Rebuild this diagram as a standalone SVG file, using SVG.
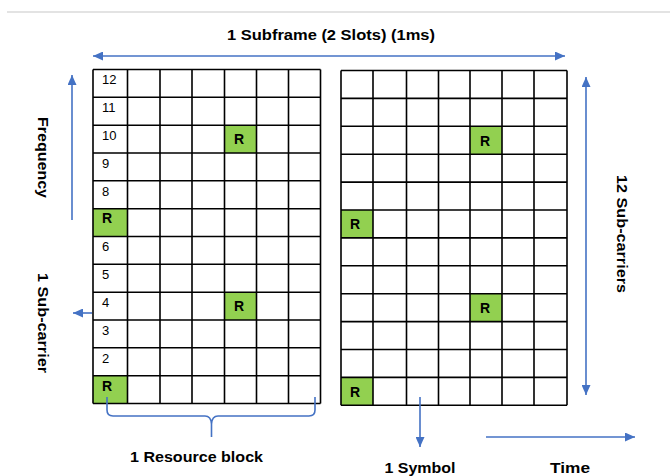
<svg xmlns="http://www.w3.org/2000/svg" width="670" height="476" viewBox="0 0 670 476">
  <style>
    .grid { fill: none; stroke: #000; stroke-width: 1.6; }
    .rs { fill: #92D050; }
    .num { font-family: "Liberation Sans", Arial, sans-serif; font-size: 13px; fill: #000; }
    .r { font-family: "Liberation Sans", Arial, sans-serif; font-size: 14px; font-weight: bold; fill: #000; }
    .lbl { font-family: "Liberation Sans", Arial, sans-serif; font-size: 15.5px; font-weight: bold; fill: #000; }
    .arr { fill: none; stroke: #4472C4; stroke-width: 1.6; }
  </style>
  <defs>
    <marker id="ah" markerUnits="userSpaceOnUse" markerWidth="10" markerHeight="9" refX="10" refY="4.5" orient="auto-start-reverse">
      <path d="M0,0 L10,4.5 L0,9 z" fill="#4472C4"/>
    </marker>
  </defs>
  <rect width="670" height="476" fill="#fff"/>
  <line x1="7" y1="12" x2="670" y2="12" stroke="#c8c8c8" stroke-width="1.2"/>

  <g id="left-grid">
    <rect class="rs" x="224.5" y="125.2" width="32" height="27.8"/>
    <rect class="rs" x="93" y="208.7" width="34.5" height="27.8"/>
    <rect class="rs" x="224.5" y="292.2" width="32" height="27.8"/>
    <rect class="rs" x="93" y="375.7" width="34.5" height="27.8"/>
    <path class="grid" d="M93,69.5 V403.5 M127.5,69.5 V403.5 M160,69.5 V403.5 M192,69.5 V403.5 M224.5,69.5 V403.5 M256.5,69.5 V403.5 M288.5,69.5 V403.5 M320.5,69.5 V403.5
      M93,69.5 H320.5 M93,97.3 H320.5 M93,125.2 H320.5 M93,153 H320.5 M93,180.8 H320.5 M93,208.7 H320.5 M93,236.5 H320.5 M93,264.3 H320.5 M93,292.2 H320.5 M93,320 H320.5 M93,347.8 H320.5 M93,375.7 H320.5 M93,403.5 H320.5"/>
    <text class="num" x="102" y="84">12</text>
    <text class="num" x="102" y="112">11</text>
    <text class="num" x="102" y="140">10</text>
    <text class="num" x="102" y="168">9</text>
    <text class="num" x="102" y="196">8</text>
    <text class="r" x="102" y="223">R</text>
    <text class="num" x="102" y="251">6</text>
    <text class="num" x="102" y="279">5</text>
    <text class="num" x="102" y="307">4</text>
    <text class="num" x="102" y="335">3</text>
    <text class="num" x="102" y="363">2</text>
    <text class="r" x="102" y="391">R</text>
    <text class="r" x="234" y="144">R</text>
    <text class="r" x="234" y="311">R</text>
  </g>

  <g id="right-grid">
    <rect class="rs" x="470" y="126.3" width="32" height="27.9"/>
    <rect class="rs" x="341" y="210" width="32" height="27.9"/>
    <rect class="rs" x="470" y="293.7" width="32" height="27.9"/>
    <rect class="rs" x="341" y="377.4" width="32" height="27.9"/>
    <path class="grid" d="M341,70.5 V405.3 M373,70.5 V405.3 M406.5,70.5 V405.3 M438.5,70.5 V405.3 M470,70.5 V405.3 M502,70.5 V405.3 M534,70.5 V405.3 M567,70.5 V405.3
      M341,70.5 H567 M341,98.4 H567 M341,126.3 H567 M341,154.2 H567 M341,182.1 H567 M341,210 H567 M341,237.9 H567 M341,265.8 H567 M341,293.7 H567 M341,321.6 H567 M341,349.5 H567 M341,377.4 H567 M341,405.3 H567"/>
    <text class="r" x="480" y="146">R</text>
    <text class="r" x="350" y="229">R</text>
    <text class="r" x="480" y="313">R</text>
    <text class="r" x="350" y="397">R</text>
  </g>

  <g id="connectors">
    <line class="arr" x1="93" y1="56" x2="565" y2="56" marker-start="url(#ah)" marker-end="url(#ah)"/>
    <line class="arr" x1="72" y1="220" x2="72" y2="75" marker-end="url(#ah)"/>
    <line class="arr" x1="92" y1="313" x2="73" y2="313" marker-end="url(#ah)"/>
    <line class="arr" x1="586" y1="77" x2="586" y2="395" marker-start="url(#ah)" marker-end="url(#ah)"/>
    <line class="arr" x1="420" y1="397" x2="420" y2="447" marker-end="url(#ah)"/>
    <line class="arr" x1="486" y1="437" x2="635" y2="437" marker-end="url(#ah)"/>
    <path class="arr" d="M107,397 V410 Q107,416 113,416 H205 Q211,416 211.5,424 V437 M211.5,424 Q212,416 218,416 H309 Q315,416 315,410 V397"/>
  </g>

  <g id="labels">
    <text class="lbl" x="331" y="40" text-anchor="middle" textLength="208" lengthAdjust="spacingAndGlyphs">1 Subframe (2 Slots) (1ms)</text>
    <text class="lbl" text-anchor="middle" transform="translate(38,157.5) rotate(90)" textLength="81" lengthAdjust="spacingAndGlyphs">Frequency</text>
    <text class="lbl" text-anchor="middle" transform="translate(38,323) rotate(90)" textLength="100" lengthAdjust="spacingAndGlyphs">1 Sub-carrier</text>
    <text class="lbl" text-anchor="middle" transform="translate(617,234) rotate(90)" textLength="118" lengthAdjust="spacingAndGlyphs">12 Sub-carriers</text>
    <text class="lbl" x="196.5" y="462" text-anchor="middle" textLength="133" lengthAdjust="spacingAndGlyphs">1 Resource block</text>
    <text class="lbl" x="420" y="473" text-anchor="middle" textLength="71" lengthAdjust="spacingAndGlyphs">1 Symbol</text>
    <text class="lbl" x="570" y="473" text-anchor="middle" textLength="40" lengthAdjust="spacingAndGlyphs">Time</text>
  </g>
</svg>
